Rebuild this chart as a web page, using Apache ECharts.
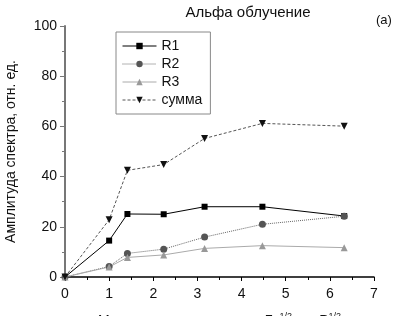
<!DOCTYPE html>
<html>
<head>
	<meta charset="utf-8">
	<title>Альфа облучение</title>
	<script src="https://cdn.jsdelivr.net/npm/echarts@6/dist/echarts.min.js"></script>
</head>
<body style="margin:0">
	<div id="box" style="width: 394px;height: 316px;"></div>
	<script type="text/javascript">
		// x: корень из дозы
		var xVals = [0, 1, 1.414, 2.236, 3.162, 4.472, 6.325]
		var r1 = [0, 14.5, 25.1, 25, 28, 28, 24.3]
		var r2 = [0, 4.2, 9.4, 11.1, 15.9, 21, 24.2]
		var r3 = [0, 4, 7.8, 8.8, 11.4, 12.5, 11.7]
		var summa = [0, 22.8, 42.5, 44.8, 55.2, 61.2, 60.1]
		var seriesNames = ['R1', 'R2', 'R3', 'сумма']

		function pairs(ys) {
			return xVals.map(function (x, i) { return [x, ys[i]] })
		}

		var font = 'Liberation Sans, Arial, sans-serif'
		var myChart = echarts.init(document.getElementById('box'))

		var option = {
			animation: false,
			textStyle: { fontFamily: font },
			title: {
				text: 'Альфа облучение',
				left: 243, top: 0, textAlign: 'center',
				textStyle: { fontSize: 15, fontWeight: 'normal', color: '#111', fontFamily: font }
			},
			graphic: [{
				type: 'text', left: 376, top: 14,
				style: { text: '(a)', fontSize: 13, fill: '#111', fontFamily: font }
			}],
			legend: {
				orient: 'vertical',
				left: 116, top: 32,
				padding: [7, 8, 7, 6],
				itemGap: 4,
				itemWidth: 34, itemHeight: 8,
				borderColor: '#888', borderWidth: 1,
				lineStyle: { width: 1, type: 'inherit' },
				textStyle: { fontSize: 14, color: '#111', fontFamily: font },
				data: seriesNames
			},
			grid: { left: 65, top: 26, right: 20, bottom: 39, outerBoundsMode: 'none' },
			xAxis: {
				type: 'value', min: 0, max: 7, interval: 1,
				offset: 4,
				name: '{a|Мощность поглощ. дозы, Гр}{s|1/2}{a|,      Р}{s|1/2}',
				nameLocation: 'middle', nameGap: 31,
				nameTextStyle: {
					rich: {
						a: { fontSize: 14, color: '#111', fontFamily: font },
						s: { fontSize: 9, color: '#111', fontFamily: font, verticalAlign: 'top', padding: [0, 0, 10, 0] }
					}
				},
				axisLine: { lineStyle: { color: '#000', width: 1.5 } },
				axisTick: { lineStyle: { color: '#000' }, length: 4 },
				minorTick: { show: true, splitNumber: 2, length: 3, lineStyle: { color: '#000' } },
				axisLabel: { fontSize: 14, color: '#111', margin: 6 },
				splitLine: { show: false }
			},
			yAxis: {
				type: 'value', min: 0, max: 100, interval: 20,
				name: 'Амплитуда спектра, отн. ед.',
				nameLocation: 'middle', nameGap: 47,
				nameTextStyle: { fontSize: 14, color: '#111', fontFamily: font },
				axisLine: { show: true, lineStyle: { color: '#777', width: 2 } },
				axisTick: { lineStyle: { color: '#777' }, length: 5 },
				minorTick: { show: true, splitNumber: 2, length: 3, lineStyle: { color: '#777' } },
				axisLabel: { fontSize: 14, color: '#111', margin: 8 },
				splitLine: { show: false }
			},
			series: [
				{
					name: 'R1', type: 'line', data: pairs(r1),
					symbol: 'rect', symbolSize: 6,
					lineStyle: { color: '#000', width: 1 },
					itemStyle: { color: '#000' }
				},
				{
					name: 'R2', type: 'line', data: pairs(r2),
					symbol: 'circle', symbolSize: 7,
					lineStyle: { color: '#666', width: 1, type: 'dotted' },
					itemStyle: { color: '#555' }
				},
				{
					name: 'R3', type: 'line', data: pairs(r3),
					symbol: 'triangle', symbolSize: 7,
					lineStyle: { color: '#aaa', width: 1 },
					itemStyle: { color: '#999' }
				},
				{
					name: 'сумма', type: 'line', data: pairs(summa),
					symbol: 'triangle', symbolRotate: 180, symbolSize: 7,
					lineStyle: { color: '#555', width: 1, type: [3, 2] },
					itemStyle: { color: '#111' }
				}
			]
		}

		myChart.setOption(option)
	</script>
</body>
</html>
